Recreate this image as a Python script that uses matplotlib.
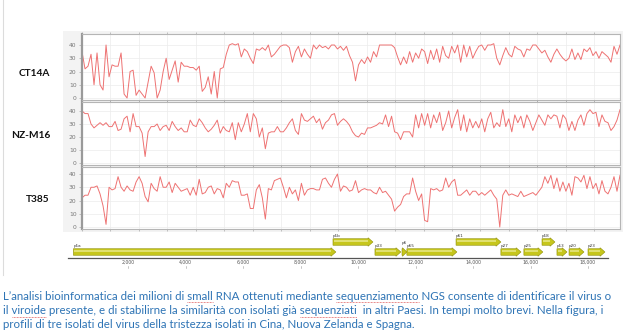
import numpy as np
import matplotlib
matplotlib.use('Agg')
import matplotlib.pyplot as plt
from matplotlib.patches import FancyArrow, Rectangle
from matplotlib.lines import Line2D
from matplotlib.ticker import MultipleLocator

W, H = 625, 336

# ---- coverage profiles ----
isolates = ['CT14A', 'NZ-M16', 'T385']

ct14a = [35, 22, 24, 33, 10, 34, 10, 6, 40, 16,
         25, 24, 24, 34, 3, 0, 20, 21, 2, 6,
         3, 0, 12, 24, 19, 0, 6, 20, 30, 14,
         21, 28, 12, 27, 24, 24, 23, 23, 21, 24,
         5, 8, 16, 3, 20, 0, 22, 23, 33, 40,
         41, 40, 41, 31, 37, 35, 30, 26, 37, 36,
         38, 36, 40, 31, 33, 36, 39, 40, 40, 38,
         27, 35, 39, 31, 37, 33, 30, 40, 37, 40,
         38, 39, 37, 40, 40, 37, 39, 36, 39, 32,
         27, 13, 25, 29, 26, 31, 27, 35, 31, 40,
         40, 40, 40, 40, 38, 31, 25, 31, 26, 35,
         27, 34, 30, 37, 35, 26, 36, 29, 37, 27,
         39, 32, 30, 39, 34, 40, 27, 40, 31, 39,
         30, 35, 39, 40, 36, 40, 40, 41, 30, 25,
         32, 38, 33, 31, 39, 37, 36, 31, 37, 36,
         40, 40, 37, 34, 36, 31, 27, 33, 37, 33,
         30, 28, 30, 37, 29, 34, 29, 37, 35, 38,
         32, 35, 30, 35, 33, 31, 27, 39, 33, 40]

nzm16 = [40, 38, 38, 30, 27, 29, 31, 29, 31, 28,
         28, 32, 25, 26, 34, 36, 24, 38, 28, 28,
         23, 5, 24, 28, 28, 30, 25, 28, 29, 25,
         32, 28, 25, 27, 24, 24, 33, 29, 28, 34,
         31, 27, 24, 26, 29, 33, 23, 28, 25, 24,
         31, 18, 31, 24, 30, 38, 24, 38, 34, 20,
         27, 11, 23, 24, 24, 28, 24, 24, 27, 31,
         34, 25, 22, 38, 33, 32, 34, 36, 31, 34,
         26, 31, 33, 37, 38, 29, 32, 34, 32, 29,
         24, 21, 20, 23, 22, 27, 27, 28, 29, 31,
         30, 37, 28, 36, 24, 23, 18, 24, 24, 24,
         20, 37, 27, 38, 29, 38, 27, 37, 31, 39,
         25, 31, 40, 27, 35, 41, 25, 37, 24, 34,
         27, 32, 27, 34, 24, 34, 39, 27, 31, 28,
         41, 28, 34, 24, 37, 31, 36, 27, 37, 32,
         25, 31, 37, 33, 29, 37, 34, 37, 36, 27,
         37, 34, 25, 32, 25, 33, 37, 29, 38, 41,
         38, 39, 28, 37, 32, 31, 25, 28, 33, 41]

t385 = [22, 24, 24, 30, 30, 31, 25, 16, 2, 30,
        28, 29, 38, 30, 27, 31, 28, 27, 34, 38,
        33, 23, 19, 33, 29, 27, 38, 30, 30, 34,
        26, 33, 30, 27, 28, 29, 24, 30, 24, 36,
        25, 26, 30, 31, 25, 29, 28, 22, 33, 30,
        35, 34, 34, 24, 24, 25, 14, 14, 28, 32,
        22, 6, 29, 28, 35, 36, 37, 30, 22, 30,
        25, 28, 20, 33, 24, 28, 29, 29, 28, 28,
        36, 37, 33, 30, 36, 40, 27, 31, 30, 27,
        28, 35, 26, 28, 29, 28, 28, 26, 25, 30,
        26, 27, 24, 21, 12, 15, 17, 23, 25, 25,
        37, 27, 20, 25, 5, 4, 29, 28, 29, 27,
        28, 37, 30, 34, 36, 24, 24, 26, 28, 24,
        27, 27, 24, 26, 24, 26, 28, 24, 21, 0,
        24, 28, 24, 25, 24, 23, 27, 23, 24, 25,
        26, 24, 27, 30, 38, 33, 39, 29, 37, 27,
        34, 27, 33, 24, 38, 37, 34, 39, 29, 38,
        29, 33, 25, 35, 27, 25, 30, 38, 27, 39]

y_ticks = [0, 10, 20, 30, 40]

# ---- genome map ----
genes = ['p1a', 'p1b', 'p33', 'p6', 'p65', 'p61', 'p27', 'p25', 'p18', 'p13', 'p20', 'p23']
gene_start = [100, 9130, 10590, 11530, 11700, 13410, 14970, 15770, 16400, 16920, 17340, 18000]
gene_end = [9230, 10520, 11490, 11700, 13440, 14970, 15670, 16430, 16850, 17270, 17860, 18590]
gene_row = [0, 1, 0, 0, 0, 1, 0, 0, 1, 0, 0, 0]
genome_ticks = [2000, 4000, 6000, 8000, 10000, 12000, 14000, 16000, 18000]
genome_len = 18700

caption_lines = [
    'L\u2019analisi bioinformatica dei milioni di small RNA ottenuti mediante sequenziamento NGS consente di identificare il virus o',
    'il viroide presente, e di stabilirne la similarit\u00e0 con isolati gi\u00e0 sequenziati  in altri Paesi. In tempi molto brevi. Nella figura, i',
    'profili di tre isolati del virus della tristezza isolati in Cina, Nuova Zelanda e Spagna.',
]
underlined = [['small', 'sequenziamento'], ['viroide', 'sequenziati'], []]


def px_box(x0, y0, x1, y1):
    # pixel box (top-left origin) -> figure fraction [left, bottom, width, height]
    return [x0 / W, 1 - y1 / H, (x1 - x0) / W, (y1 - y0) / H]


fig = plt.figure(figsize=(W / 100, H / 100), dpi=100)
fig.patch.set_facecolor('white')

# light grey screenshot background behind the panels
fig.patches.append(Rectangle((63 / W, 1 - 232 / H), 560 / W, 201 / H, transform=fig.transFigure,
                             facecolor='#f3f3f3', edgecolor='none', zorder=-10))
fig.add_artist(Line2D([3 / W, 3 / W], [1 - 275 / H, 1], transform=fig.transFigure,
                      color='#dcdcdc', lw=0.8))

# ---- three coverage panels ----
panel_boxes = [(82, 34, 620, 100), (82, 102, 620, 165), (82, 167, 620, 229)]
panel_ylims = [(-1.5, 48.3), (-1.5, 46.9), (-1.5, 45.3)]
label_y = [73, 135, 200]

for name, vals, box, ylim, ly in zip(isolates, [ct14a, nzm16, t385], panel_boxes, panel_ylims, label_y):
    ax = fig.add_axes(px_box(*box))
    x = np.arange(len(vals))
    ax.plot(x, vals, color='#ee7272', lw=0.7)
    ax.set_xlim(0, len(vals) - 1)
    ax.set_ylim(*ylim)
    ax.set_yticks(y_ticks)
    ax.xaxis.set_major_locator(MultipleLocator(9.47))
    ax.tick_params(axis='x', length=1.5, top=True, labelbottom=False, color='#aaaaaa', width=0.5)
    ax.tick_params(axis='y', length=2, pad=2, labelsize=4.3, labelcolor='#777777', color='#aaaaaa', width=0.5)
    ax.grid(True, color='#ececec', lw=0.5)
    for side in ['top', 'right', 'bottom']:
        ax.spines[side].set_color('#b5b5b5')
        ax.spines[side].set_linewidth(0.8)
    ax.spines['left'].set_color('#9a9a9a')
    ax.spines['left'].set_linewidth(1.6)
    fig.text(50 / W, 1 - ly / H, name, ha='right', va='center', fontsize=7.3,
             fontweight='bold', family='Lato', color='#111111')

# ---- genome map (y in pixel-like units, inverted) ----
mx = fig.add_axes(px_box(60, 232, 615, 272))
mx.set_xlim((60 - 70.5) / 0.02875, (615 - 70.5) / 0.02875)
mx.set_ylim(40, 0)
mx.axis('off')

row_y = {0: 20, 1: 10}
label_lift = {'p6': 3}
for g, s, e, r in zip(genes, gene_start, gene_end, gene_row):
    yc = row_y[r]
    length = e - s
    head = min(170, 0.9 * length)
    mx.add_patch(FancyArrow(s, yc, length, 0, width=6.5, head_width=8.5, head_length=head,
                            length_includes_head=True, facecolor='#c6c61c',
                            edgecolor='#8f8f05', lw=0.4))
    if length - head > 60:
        mx.plot([s + 30, e - head], [yc - 1.4, yc - 1.4], color='#e9e98a', lw=1.1,
                solid_capstyle='butt')
    mx.text(s, yc - 4.8 - label_lift.get(g, 0), g, fontsize=3.0, color='#333333',
            ha='left', va='baseline')

mx.plot([-90, genome_len], [26, 26], color='#555555', lw=0.9)
for t in genome_ticks:
    mx.text(t, 30, f'{t:,}', ha='center', va='center', fontsize=3.3, color='#555555')
    mx.plot([t, t], [33.5, 36], color='#999999', lw=0.4)

# ---- caption ----
renderer = fig.canvas.get_renderer()
cap_kw = dict(fontsize=8.3, color='#2e74b5', family='Lato', va='baseline')
caption_y = [300, 314.5, 328.5]
for line, ypx, words in zip(caption_lines, caption_y, underlined):
    fig.text(3 / W, 1 - ypx / H, line, **cap_kw)
    for w in words:
        i = line.index(w)
        t1 = fig.text(3 / W, 0, line[:i + len(w)], **cap_kw)
        t2 = fig.text(3 / W, 0, w, **cap_kw)
        right = t1.get_window_extent(renderer).x1
        width = t2.get_window_extent(renderer).width
        t1.remove()
        t2.remove()
        yy = 1 - (ypx + 2) / H
        fig.add_artist(Line2D([(right - width) / W, right / W], [yy, yy], transform=fig.transFigure,
                              color='#e06060', lw=0.6, ls=(0, (1, 0.8))))

fig.savefig('out.png', dpi=100)
